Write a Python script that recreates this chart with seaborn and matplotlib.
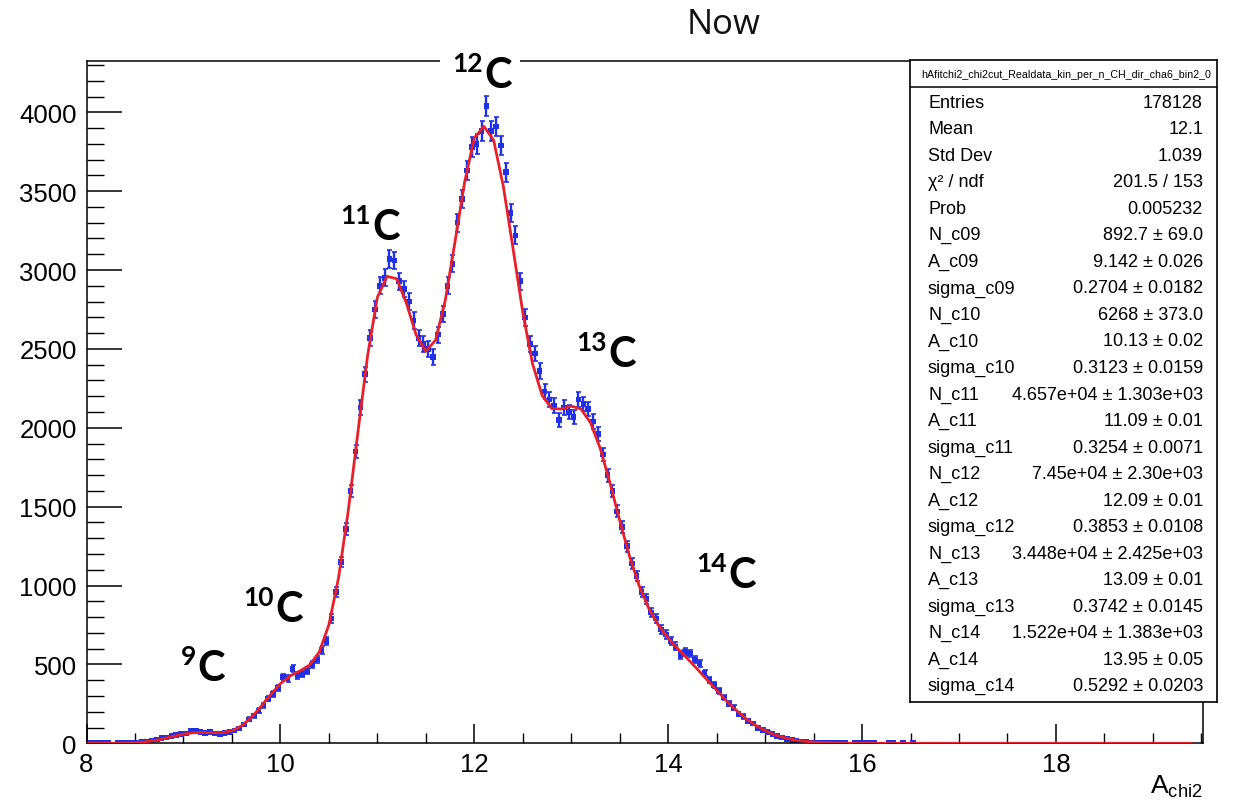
import numpy as np
import pandas as pd
import matplotlib
matplotlib.use("Agg")
import matplotlib.pyplot as plt
from matplotlib.ticker import MultipleLocator
from matplotlib.patches import Rectangle
import seaborn as sns

# ---------------- data ----------------
bin_start = 8.0
bin_width = 0.05
counts = [
    1, 2, 1, 1, 2, 0, 1, 1, 2, 1,                                  # 8.0 - 8.5
    6, 9, 12, 17, 24, 32, 38, 46, 52, 58,                          # 8.5 - 9.0
    62, 78, 82, 70, 66, 72, 61, 58, 66, 70,                        # 9.0 - 9.5
    80, 94, 120, 152, 175, 207, 240, 282, 312, 352,                # 9.5 - 10.0
    420, 410, 472, 430, 440, 460, 500, 532, 590, 650,              # 10.0 - 10.5
    790, 960, 1150, 1360, 1600, 1850, 2130, 2340, 2570, 2750,      # 10.5 - 11.0
    2900, 2950, 3070, 3060, 2930, 2880, 2800, 2680, 2570, 2530,    # 11.0 - 11.5
    2500, 2450, 2590, 2720, 2900, 3040, 3300, 3450, 3630, 3780,    # 11.5 - 12.0
    3800, 3880, 4040, 3880, 3910, 3790, 3620, 3360, 3220, 2930,    # 12.0 - 12.5
    2700, 2530, 2470, 2360, 2230, 2180, 2140, 2050, 2130, 2100,    # 12.5 - 13.0
    2070, 2180, 2150, 2120, 2040, 1960, 1830, 1700, 1600, 1470,    # 13.0 - 13.5
    1370, 1250, 1140, 1060, 960, 915, 830, 790, 720, 690,          # 13.5 - 14.0
    650, 615, 560, 580, 570, 530, 505, 445, 400, 370,              # 14.0 - 14.5
    330, 290, 250, 225, 185, 170, 140, 125, 98, 85,                # 14.5 - 15.0
    70, 58, 45, 36, 27, 20, 16, 12, 10, 6,                         # 15.0 - 15.5
    5, 4, 3, 3, 2, 2, 1, 0, 1, 1,                                  # 15.5 - 16.0
    1, 1, 1, 0, 0, 1, 1, 0, 1, 0,                                  # 16.0 - 16.5
    1,                                                             # 16.5
]

fit_x_dense_start, fit_x_dense_step = 8.0, 0.1
fit_y = [
    0.0, 0.04, 0.15, 0.5, 1.5, 3.9, 8.8, 17.3, 29.6, 44.4,
    58.0, 66.8, 69.1, 67.2, 67.9, 79.7, 110.7, 163.3, 233.6, 310.2,
    378.0, 426.5, 458.3, 495.0, 577.2, 750.7, 1049.8, 1473.8, 1973.5, 2458.9,
    2826.4, 2960.0, 2945.0, 2789.9, 2589.5, 2484.9, 2554.9, 2805.3, 3174.6, 3556.2,
    3837.5, 3910.6, 3822.5, 3529.8, 3135.0, 2733.6, 2408.1, 2204.7, 2121.5, 2118.8,
    2137.3, 2119.4, 2031.2, 1867.8, 1650.4, 1412.9, 1188.8, 1000.4, 855.1, 747.7,
    666.7, 599.2, 535.7, 470.9, 403.6, 335.8, 270.3, 210.3, 157.9, 114.5,
    80.1, 54.1, 35.2, 22.1, 13.4, 7.9, 4.4, 2.4, 1.3, 0.65, 0.3,
]
fit_tail_x = [17.0, 18.0, 19.4]
fit_tail_y = [0.0, 0.0, 0.0]

x_ticks = [8, 10, 12, 14, 16, 18]
y_ticks = [0, 500, 1000, 1500, 2000, 2500, 3000, 3500, 4000]

stat_title = "hAfitchi2_chi2cut_Realdata_kin_per_n_CH_dir_cha6_bin2_0"
stat_labels = ["Entries", "Mean", "Std Dev", "\u03c7\u00b2 / ndf", "Prob",
               "N_c09", "A_c09", "sigma_c09", "N_c10", "A_c10", "sigma_c10",
               "N_c11", "A_c11", "sigma_c11", "N_c12", "A_c12", "sigma_c12",
               "N_c13", "A_c13", "sigma_c13", "N_c14", "A_c14", "sigma_c14"]
stat_values = ["178128", "12.1", "1.039", "201.5 / 153", "0.005232",
               "892.7 \u00b1 69.0", "9.142 \u00b1 0.026", "0.2704 \u00b1 0.0182",
               "6268 \u00b1 373.0", "10.13 \u00b1 0.02", "0.3123 \u00b1 0.0159",
               "4.657e+04 \u00b1 1.303e+03", "11.09 \u00b1 0.01", "0.3254 \u00b1 0.0071",
               "7.45e+04 \u00b1 2.30e+03", "12.09 \u00b1 0.01", "0.3853 \u00b1 0.0108",
               "3.448e+04 \u00b1 2.425e+03", "13.09 \u00b1 0.01", "0.3742 \u00b1 0.0145",
               "1.522e+04 \u00b1 1.383e+03", "13.95 \u00b1 0.05", "0.5292 \u00b1 0.0203"]

isotope_mass = ["9", "10", "11", "12", "13", "14"]

# ---------------- style ----------------
sns.set_theme(style="white", rc={
    "axes.edgecolor": "black", "text.color": "black",
    "xtick.color": "black", "ytick.color": "black",
})
ROOT_FONT = ["Liberation Sans", "DejaVu Sans"]
plt.rcParams["font.family"] = ROOT_FONT

W, H = 1240, 803
fig = plt.figure(figsize=(W / 100, H / 100), dpi=100)
fig.patch.set_facecolor("white")

L, R, T, B = 86.5, 1203.3, 61.7, 744.3
ax = fig.add_axes([L / W, 1 - B / H, (R - L) / W, (B - T) / H])

counts_arr = np.array(counts, dtype=float)
centers = bin_start + bin_width * (np.arange(len(counts_arr)) + 0.5)
mask = counts_arr > 0
df_hist = pd.DataFrame({"x": centers[mask], "y": counts_arr[mask],
                        "err": np.sqrt(counts_arr[mask])})

fit_x = list(fit_x_dense_start + fit_x_dense_step * np.arange(len(fit_y))) + fit_tail_x
df_fit = pd.DataFrame({"x": fit_x, "y": list(fit_y) + fit_tail_y})

blue = "#1f30e6"
red = "#e8202a"
ax.errorbar(df_hist["x"], df_hist["y"], yerr=df_hist["err"], fmt="none",
            ecolor=blue, elinewidth=1.7, capsize=1.8, capthick=1.2, zorder=2)
sns.scatterplot(data=df_hist, x="x", y="y", ax=ax, marker="s", s=16,
                color=blue, edgecolor="none", zorder=2.5, legend=False)
sns.lineplot(data=df_fit, x="x", y="y", ax=ax, color=red, lw=2.0,
             zorder=3, legend=False, sort=False)

ax.set_xlim(8, 19.52)
ax.set_ylim(0, 4327)
ax.set_xticks(x_ticks)
ax.set_yticks(y_ticks)
ax.xaxis.set_minor_locator(MultipleLocator(0.5))
ax.yaxis.set_minor_locator(MultipleLocator(100))
ax.set_xlabel("")
ax.set_ylabel("")
ax.tick_params(axis="x", which="major", direction="in", length=14, width=1.1,
               pad=6, labelsize=18.5, top=False, bottom=True)
ax.tick_params(axis="x", which="minor", direction="in", length=7, width=1.0,
               top=False, bottom=True)
ax.tick_params(axis="y", which="major", direction="in", length=25, width=1.1,
               pad=7, labelsize=18.5, left=True, right=False)
ax.tick_params(axis="y", which="minor", direction="in", length=12, width=1.0,
               left=True, right=False)
for sp in ax.spines.values():
    sp.set_color("black")
    sp.set_linewidth(1.1)

# x-axis title
fig.text(1203 / W, 1 - 787 / H, r"A$_{\mathregular{chi2}}$", ha="right",
         va="center", fontsize=19)

# title
fig.text(724 / W, 1 - 25 / H, "Now", ha="center", va="center", fontsize=25,
         family=["Open Sans", "DejaVu Sans"], color="#111111")

# ---------------- stats box ----------------
bx0, bx1, by0, by1 = 910, 1217, 61, 703
sb = fig.add_axes([bx0 / W, 1 - by1 / H, (bx1 - bx0) / W, (by1 - by0) / H], zorder=5)
sb.set_facecolor("white")
sb.set_xticks([])
sb.set_yticks([])
sb.set_xlim(bx0, bx1)
sb.set_ylim(by1, by0)
for sp in sb.spines.values():
    sp.set_color("black")
    sp.set_linewidth(1.2)
sb.axhline(88, color="black", lw=1.1)
sb.text((bx0 + bx1) / 2 + 3, 74.5, stat_title, ha="center", va="center", fontsize=7.7)
row0, row_step = 103.3, 26.52
for i, (lab, val) in enumerate(zip(stat_labels, stat_values)):
    yy = row0 + i * row_step
    sb.text(928, yy, lab, ha="left", va="center", fontsize=13)
    sb.text(1203, yy, val, ha="right", va="center", fontsize=13)

# ---------------- isotope labels ----------------
# (C left x, C baseline y) in pixels
iso_pos = [(197, 681), (275, 622), (372, 240), (484, 88), (608, 367), (728, 588)]
fig.add_artist(Rectangle((440 / W, 1 - 70 / H), 80 / W, 16 / H,
                         transform=fig.transFigure, facecolor="white",
                         edgecolor="none", zorder=6))
iso_font = ["Lato", "DejaVu Sans"]
for m, (cx, cy) in zip(isotope_mass, iso_pos):
    fig.text((cx - 1) / W, 1 - (cy - 16) / H, m, ha="right", va="baseline",
             fontsize=19, fontweight="bold", family=iso_font, zorder=7)
    fig.text(cx / W, 1 - cy / H, "C", ha="left", va="baseline",
             fontsize=30, fontweight="bold", family=iso_font, zorder=7)

fig.savefig("out.png", dpi=100, facecolor="white")
